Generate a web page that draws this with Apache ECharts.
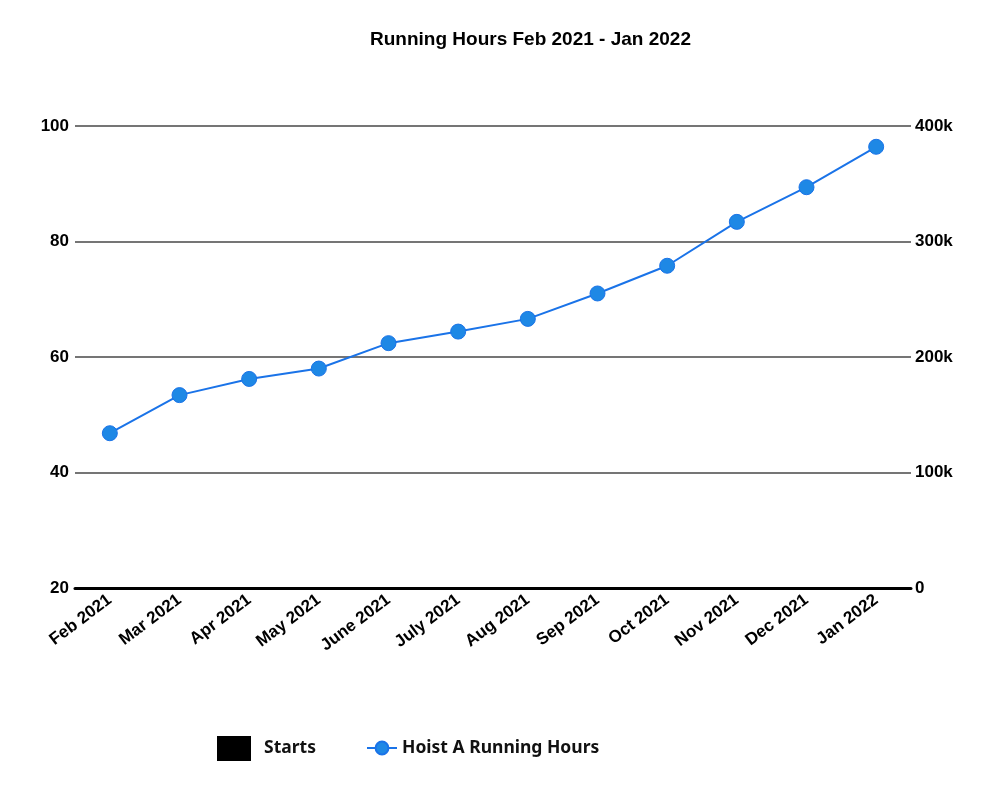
<!DOCTYPE html>
<html>
<head>
<meta charset="utf-8">
<script src="https://cdn.jsdelivr.net/npm/echarts@6/dist/echarts.min.js"></script>
<style>
  html, body { margin: 0; padding: 0; background: #fff; }
  #chart { width: 1000px; height: 808px; }
</style>
</head>
<body>
<div id="chart"></div>
<script>
// months on the x axis
var months = ['Feb 2021', 'Mar 2021', 'Apr 2021', 'May 2021', 'June 2021', 'July 2021',
              'Aug 2021', 'Sep 2021', 'Oct 2021', 'Nov 2021', 'Dec 2021', 'Jan 2022'];
// running hours, right axis
var hoistHours = [134000, 167000, 181000, 190000, 212000, 222000,
                  233000, 255000, 279000, 317000, 347000, 382000];
// starts, left axis (no bars visible in the picture)
var starts = [];

var myChart = echarts.init(document.getElementById('chart'));

var option = {
    backgroundColor: '#fff',
    title: {
        text: 'Running Hours Feb 2021 - Jan 2022',
        left: 365,
        top: 25,
        textStyle: { fontFamily: 'Liberation Sans', fontWeight: 'bold', fontSize: 19, color: '#000' }
    },
    legend: [
        {
            data: [{ name: 'Starts', icon: 'rect' }],
            left: 212,
            top: 731,
            itemWidth: 34,
            itemHeight: 25,
            itemGap: 12,
            textStyle: { fontFamily: 'Noto Sans', fontWeight: 'bold', fontSize: 17.5, color: '#111', padding: [0, 0, 0, 8] }
        },
        {
            data: ['Hoist A Running Hours'],
            left: 361,
            top: 734,
            itemWidth: 30,
            itemHeight: 16,
            itemGap: 6,
            textStyle: { fontFamily: 'Noto Sans', fontWeight: 'bold', fontSize: 17.5, color: '#111', padding: [0, 0, 0, 0] }
        }
    ],
    grid: { left: 75, right: 89, top: 126, bottom: 220 },
    xAxis: {
        type: 'category',
        data: months,
        boundaryGap: true,
        axisLine: { lineStyle: { color: '#000', width: 3 } },
        axisTick: { show: false },
        axisLabel: {
            rotate: 37,
            interval: 0,
            margin: 10,
            fontFamily: 'Liberation Sans',
            fontWeight: 'bold',
            fontSize: 17,
            color: '#000'
        }
    },
    yAxis: [
        {
            type: 'value',
            min: 20,
            max: 100,
            interval: 20,
            position: 'left',
            axisLine: { show: false },
            axisTick: { show: false },
            splitLine: { show: false },
            axisLabel: { margin: 6, fontFamily: 'Liberation Sans', fontWeight: 'bold', fontSize: 17, color: '#000' }
        },
        {
            type: 'value',
            min: 0,
            max: 400000,
            interval: 100000,
            position: 'right',
            axisLine: { show: false },
            axisTick: { show: false },
            splitLine: { lineStyle: { color: '#757575', width: 2 } },
            axisLabel: {
                margin: 4,
                fontFamily: 'Liberation Sans',
                fontWeight: 'bold',
                fontSize: 17,
                color: '#000',
                formatter: function (v) { return v === 0 ? '0' : (v / 1000) + 'k'; }
            }
        }
    ],
    series: [
        {
            name: 'Starts',
            type: 'bar',
            yAxisIndex: 0,
            data: starts,
            itemStyle: { color: '#000' }
        },
        {
            name: 'Hoist A Running Hours',
            type: 'line',
            yAxisIndex: 1,
            data: hoistHours,
            symbol: 'circle',
            symbolSize: 15,
            lineStyle: { color: '#1a73e8', width: 2 },
            itemStyle: { color: '#1e88e5', borderColor: '#1a73e8', borderWidth: 1 }
        }
    ]
};

myChart.setOption(option);
</script>
</body>
</html>
